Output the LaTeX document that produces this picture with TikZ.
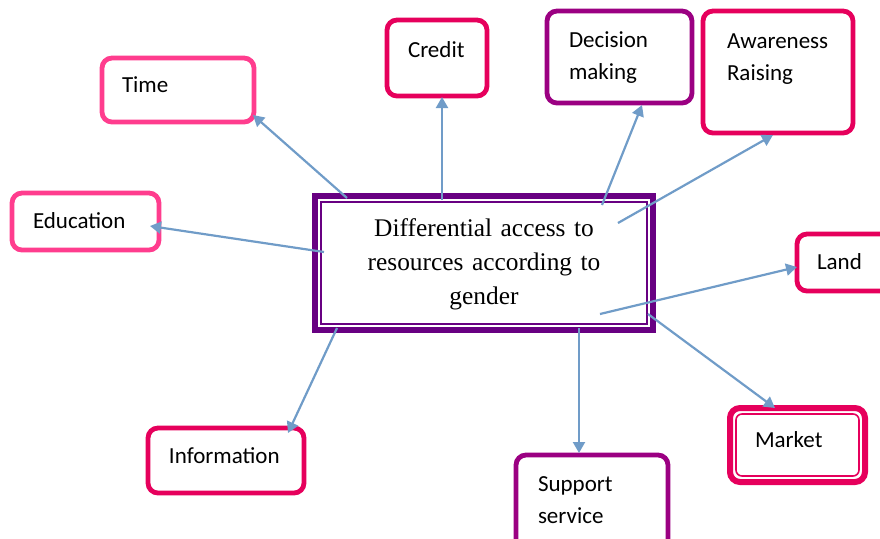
\documentclass[tikz,border=0pt]{standalone}
\usepackage{fontspec}
\setmainfont{Liberation Serif}
\newfontfamily\calibri{Carlito}
\usetikzlibrary{arrows.meta,calc}
\definecolor{hotpink}{HTML}{FF3D8E}
\definecolor{crimson}{HTML}{E6005C}
\definecolor{plum}{HTML}{9B0082}
\definecolor{grape}{HTML}{680082}
\definecolor{steel}{HTML}{709CC8}

\begin{document}
\begin{tikzpicture}[x=0.5pt, y=-0.5pt,
    box/.style={draw, line width=2.4pt, rounded corners=5pt, fill=white, anchor=north west,
      inner ysep=0pt, outer sep=0pt, align=left, font=\calibri\fontsize{11.5pt}{16pt}\selectfont},
    link/.style={steel, line width=1.1pt, -{Triangle[length=5.5pt,width=6pt]}}]
    \useasboundingbox (0,0) rectangle (880,538);
    \node[box, draw=hotpink, inner xsep=10pt, text width=56pt, text height=17pt, text depth=15pt] (time) at (102,58) {Time};
    \node[box, draw=hotpink, inner xsep=10.5pt, text width=52.5pt, text height=17.5pt, text depth=11pt] (education) at (12,193) {Education};
    \node[box, draw=crimson, inner xsep=10.5pt, text width=29pt, text height=18.5pt, text depth=19.5pt] (credit) at (387,20) {Credit};
    \node[box, draw=plum, inner xsep=11pt, text width=50.5pt, text height=18pt, text depth=28pt] (decision) at (547,11) {Decision\\making};
    \node[box, draw=crimson, inner xsep=12pt, text width=51pt, text height=18.5pt, text depth=42.5pt] (awareness) at (703,11) {Awareness\\Raising};
    \node[box, draw=crimson, inner xsep=10pt, text width=35pt, text height=17.5pt, text depth=11pt] (land) at (797,234) {Land};
    \node[box, draw=crimson, line width=3pt, inner xsep=12.5pt, text width=42.5pt, text height=19.5pt, text depth=17.5pt] (market) at (730,408) {Market};
    \draw[crimson, line width=0.8pt, rounded corners=3pt] ($(market.north west)+(6,6)$) rectangle ($(market.south east)+(-6,-6)$);
    \node[box, draw=plum, inner xsep=11pt, text width=54pt, text height=18pt, text depth=32pt] (support) at (516,455) {Support\\service};
    \node[box, draw=crimson, inner xsep=10.5pt, text width=57pt, text height=17.5pt, text depth=15pt] (information) at (148,428) {Information};
    \node[draw=grape, line width=3pt, fill=white, outer sep=0pt, inner sep=0pt, text width=169pt, text height=20pt, text depth=47pt,
      align=center, font=\fontsize{12.7pt}{17pt}\selectfont] (gender) at (484,263) {Differential access to\\resources according to\\gender};
    \draw[grape, line width=0.8pt] ($(gender.north west)+(6,6)$) rectangle ($(gender.south east)+(-6,-6)$);
    \draw[link] ($(gender.center)+(-137,-65)$) -- ($(time.south east)+(-1,-7)$);
    \draw[link] ($(gender.center)+(-42,-63)$) -- ($(credit.south)+(5,1)$);
    \draw[link] ($(gender.center)+(118,-58)$) -- ($(decision.south)+(22.5,2)$);
    \draw[link] ($(gender.center)+(134,-40)$) -- ($(awareness.south)+(-5,2)$);
    \draw[link] ($(gender.center)+(-160,-11)$) -- ($(education.east)+(-9,4.5)$);
    \draw[link] ($(gender.center)+(116,51)$) -- ($(land.west)+(0,4.5)$);
    \draw[link] ($(gender.center)+(164,51)$) -- ($(market.north)+(-22.5,0)$);
    \draw[link] ($(gender.center)+(95,65)$) -- ($(support.north)+(-13,-2)$);
    \draw[link] ($(gender.center)+(-147,65)$) -- ($(information.north east)+(-16,5)$);
\end{tikzpicture}
\end{document}
